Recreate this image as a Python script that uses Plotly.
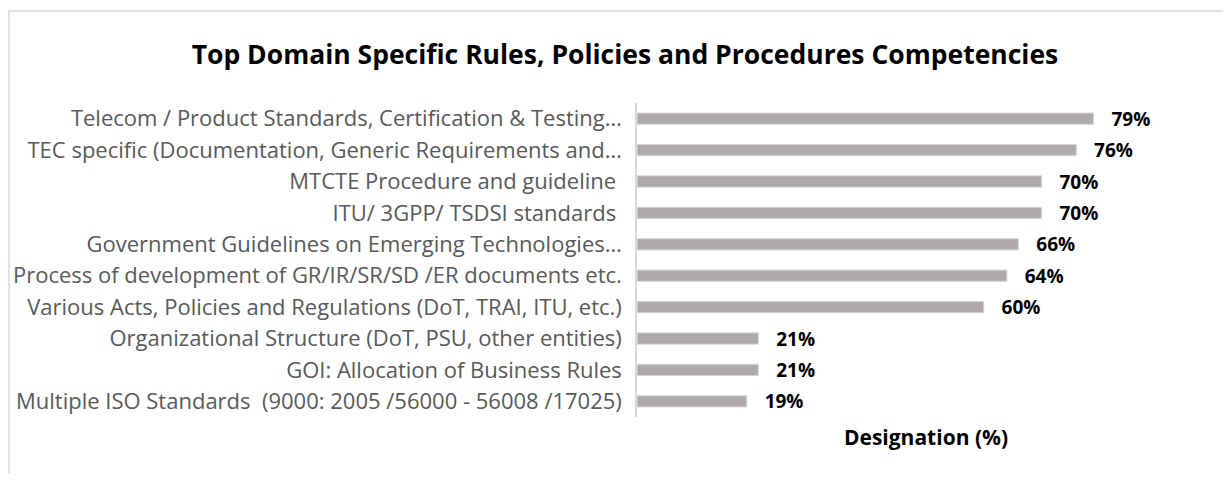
import plotly.graph_objects as go

categories = [
    "Telecom / Product Standards, Certification & Testing…",
    "TEC specific (Documentation, Generic Requirements and…",
    "MTCTE Procedure and guideline ",
    "ITU/ 3GPP/ TSDSI standards ",
    "Government Guidelines on Emerging Technologies…",
    "Process of development of GR/IR/SR/SD /ER documents etc.",
    "Various Acts, Policies and Regulations (DoT, TRAI, ITU, etc.)",
    "Organizational Structure (DoT, PSU, other entities)",
    "GOI: Allocation of Business Rules",
    "Multiple ISO Standards  (9000: 2005 /56000 - 56008 /17025)",
]
values = [79, 76, 70, 70, 66, 64, 60, 21, 21, 19]

# the page body adds an 8px margin, so the figure is drawn 8px smaller/offset
OFF = 8
W, H = 1231 - 2 * OFF, 481 - 2 * OFF
L, R, T, B = 637 - OFF, 8, 103 - OFF, 481 - 417 - OFF
pw, ph = W - L - R, H - T - B


def px_x(p):
    return (p - OFF - L) / pw


def px_y(p):
    return (H - B - (p - OFF)) / ph


fig = go.Figure(
    go.Bar(
        x=values,
        y=categories,
        orientation="h",
        marker=dict(color="#AEAAAA", line=dict(color="#D9D9D9", width=1)),
        texttemplate="\u00a0\u00a0\u00a0%{x}%",
        textposition="outside",
        constraintext="none",
        textfont=dict(family="Open Sans", size=19, color="#000000", weight="bold"),
        cliponaxis=False,
    )
)

fig.update_layout(
    width=W,
    height=H,
    margin=dict(l=L, r=R, t=T, b=B, autoexpand=False),
    paper_bgcolor="white",
    plot_bgcolor="white",
    showlegend=False,
    bargap=0.64,
    title=dict(
        text="<b>Top Domain Specific Rules, Policies and Procedures Competencies</b>",
        x=(625 - OFF) / W,
        xanchor="center",
        y=1 - (55 - OFF) / H,
        yanchor="middle",
        font=dict(family="Open Sans", size=26.5, color="#000000"),
    ),
    shapes=[
        dict(
            type="rect",
            xref="paper",
            yref="paper",
            x0=px_x(9),
            x1=px_x(1240),
            y0=px_y(520),
            y1=px_y(11),
            line=dict(color="#D9D9D9", width=1.5),
            fillcolor="rgba(0,0,0,0)",
            layer="below",
        )
    ],
)

fig.update_xaxes(
    range=[0, 100],
    showticklabels=False,
    showgrid=False,
    zeroline=False,
    showline=False,
    ticks="",
    title=dict(
        text="<b>Designation (%)</b>",
        font=dict(family="Open Sans", size=21, color="#000000"),
        standoff=13,
    ),
)

fig.update_yaxes(
    autorange="reversed",
    showgrid=False,
    zeroline=False,
    showline=True,
    linecolor="#D9D9D9",
    linewidth=1.5,
    ticks="",
    ticklabelstandoff=9,
    tickfont=dict(family="Open Sans", size=22, color="#595959"),
)

fig.write_html("out.html")
